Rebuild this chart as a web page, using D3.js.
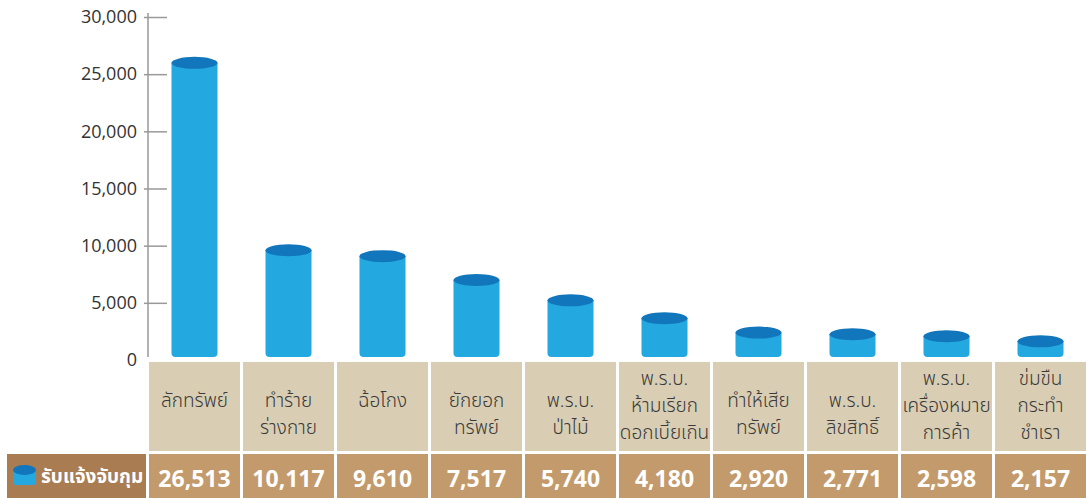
<!DOCTYPE html>
<html>
<head>
<meta charset="utf-8">
<script src="https://cdn.jsdelivr.net/npm/d3@7"></script>
<style>
  html, body { margin: 0; padding: 0; background: #fff; }
  svg { display: block; }
</style>
</head>
<body>
<svg id="chart" width="1086" height="498"></svg>
<script>
// ---- data ----
const categories = [
  ["ลักทรัพย์"],
  ["ทำร้าย", "ร่างกาย"],
  ["ฉ้อโกง"],
  ["ยักยอก", "ทรัพย์"],
  ["พ.ร.บ.", "ป่าไม้"],
  ["พ.ร.บ.", "ห้ามเรียก", "ดอกเบี้ยเกิน"],
  ["ทำให้เสีย", "ทรัพย์"],
  ["พ.ร.บ.", "ลิขสิทธิ์"],
  ["พ.ร.บ.", "เครื่องหมาย", "การค้า"],
  ["ข่มขืน", "กระทำ", "ชำเรา"]
];
const values = [26513, 10117, 9610, 7517, 5740, 4180, 2920, 2771, 2598, 2157];
const yTicks = [0, 5000, 10000, 15000, 20000, 25000, 30000];
const seriesName = "รับแจ้งจับกุม";

// ---- layout ----
const svg = d3.select("#chart");
const axisX = 148;
const bodyBottom = 357;
const barW = 46, ry = 6;
const thaiFont = "'Noto Sans Thai', 'Noto Sans Thai Looped', 'Loma', 'Garuda', 'Tlwg Typo', sans-serif";

const keys = categories.map((c, i) => i);
const x = d3.scaleBand().domain(keys).range([149, 1086]).paddingInner(3 / 94).paddingOuter(0);
const y = d3.scaleLinear().domain([0, 30000]).range([360, 17]);

// ---- y axis ----
const axis = d3.axisLeft(y).tickValues(yTicks).tickSize(0).tickPadding(11)
  .tickFormat(d3.format(","));
const gAxis = svg.append("g").attr("transform", `translate(${axisX},0)`).call(axis);
gAxis.select(".domain").remove();
gAxis.selectAll("text")
  .attr("font-family", "'Open Sans', sans-serif")
  .attr("font-size", 18)
  .attr("fill", "#333");
gAxis.selectAll(".tick").filter(d => d !== 0).append("line")
  .attr("x1", -4).attr("x2", 19)
  .attr("stroke", "#999").attr("stroke-width", 1.5);
svg.append("line")
  .attr("x1", axisX).attr("x2", axisX)
  .attr("y1", y(30000) - 4).attr("y2", bodyBottom)
  .attr("stroke", "#999").attr("stroke-width", 1.5);

// ---- cylinders ----
const bars = svg.append("g").selectAll("g").data(values).join("g")
  .attr("transform", (d, i) => `translate(${x(i) + x.bandwidth() / 2},0)`);
bars.append("path")
  .attr("fill", "#24a8e0")
  .attr("d", d => {
    const top = y(d) + ry, r = 4, w = barW / 2;
    return `M${-w},${top} L${-w},${bodyBottom - r} Q${-w},${bodyBottom} ${-w + r},${bodyBottom}
            L${w - r},${bodyBottom} Q${w},${bodyBottom} ${w},${bodyBottom - r} L${w},${top} Z`;
  });
bars.append("ellipse")
  .attr("cx", 0).attr("cy", d => y(d) + ry)
  .attr("rx", barW / 2).attr("ry", ry)
  .attr("fill", "#1276bc");

// ---- table: header row ----
const cols = svg.append("g").selectAll("g").data(categories).join("g")
  .attr("transform", (d, i) => `translate(${x(i)},0)`);
cols.append("rect")
  .attr("x", 0).attr("y", 362).attr("width", x.bandwidth()).attr("height", 89)
  .attr("fill", "#d9ceb4");
cols.append("text")
  .attr("text-anchor", "middle")
  .attr("font-family", thaiFont)
  .attr("font-size", 19)
  .attr("font-weight", 300)
  .attr("fill", "#3a3a3a")
  .each(function (lines) {
    const start = lines.length === 3 ? 378 : 400;
    d3.select(this).selectAll("tspan").data(lines).join("tspan")
      .attr("x", x.bandwidth() / 2)
      .attr("y", (l, j) => start + j * 27)
      .attr("dy", "0.35em")
      .text(l => l);
  });

// ---- table: value row ----
cols.append("rect")
  .attr("x", 0).attr("y", 454).attr("width", x.bandwidth()).attr("height", 44)
  .attr("fill", "#c39a6b");
cols.append("text")
  .data(values)
  .attr("x", x.bandwidth() / 2).attr("y", 487)
  .attr("text-anchor", "middle")
  .attr("font-family", "'Open Sans', sans-serif")
  .attr("font-weight", 700)
  .attr("font-size", 23)
  .attr("fill", "#fff")
  .text(d => d3.format(",")(d));

// ---- legend cell ----
const leg = svg.append("g");
leg.append("rect").attr("x", 7).attr("y", 454).attr("width", 139).attr("height", 44).attr("fill", "#a97c52");
leg.append("path")
  .attr("fill", "#24a8e0")
  .attr("d", "M13,470 L13,482 Q13,485 16,485 L33,485 Q36,485 36,482 L36,470 Z");
leg.append("ellipse").attr("cx", 24.5).attr("cy", 470).attr("rx", 11.5).attr("ry", 5).attr("fill", "#1276bc");
leg.append("text")
  .attr("x", 41).attr("y", 483)
  .attr("font-family", thaiFont)
  .attr("font-weight", 700)
  .attr("font-size", 19)
  .attr("fill", "#fff")
  .text(seriesName);
</script>
</body>
</html>
